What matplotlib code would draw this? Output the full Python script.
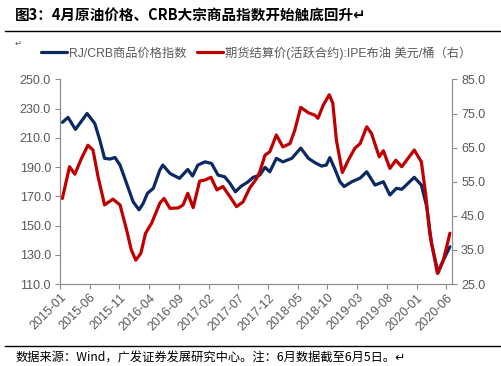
import matplotlib
matplotlib.use("Agg")
import matplotlib.pyplot as plt
from matplotlib.lines import Line2D
import numpy as np

plt.rcParams["font.family"] = ["Liberation Sans", "Noto Sans CJK SC", "DejaVu Sans"]

# months since 2015-01 (fractional) and values
crb_month = [0.4, 1.35, 2.6, 4.55, 5.85, 6.7, 7.5, 8.4, 9.25, 10.1, 11.2, 12.3,
             13.3, 14.0, 14.7, 15.7, 16.8, 17.3, 18.5, 20.1, 21.5, 22.3, 23.2,
             24.4, 25.5, 26.6, 27.7, 28.6, 29.5, 30.5, 31.6, 32.5, 33.6, 34.5,
             35.3, 36.4, 37.5, 39.0, 40.5, 41.8, 42.9, 44.0, 44.8, 45.4, 46.2,
             47.1, 47.8, 49.1, 50.5, 51.6, 53.0, 54.4, 55.5, 56.6, 57.5, 59.6,
             60.8, 61.7, 62.5, 63.6, 64.5, 65.6]
crb_value = [220.6, 224.0, 215.8, 226.7, 219.9, 208.5, 196.0, 195.5, 196.6,
             191.4, 178.9, 166.3, 160.8, 165.2, 172.0, 175.5, 188.0, 191.4,
             185.7, 182.3, 188.4, 183.9, 191.4, 193.6, 192.5, 184.5, 183.4,
             178.9, 173.1, 177.0, 179.8, 183.0, 184.5, 189.8, 186.8, 196.0,
             193.6, 196.0, 203.0, 196.0, 193.0, 190.7, 191.4, 196.5, 189.1,
             180.0, 176.7, 180.0, 182.5, 186.8, 177.7, 180.0, 170.9, 175.5,
             174.8, 183.0, 177.7, 162.9, 137.8, 117.7, 126.4, 135.5]

brent_month = [0.4, 1.6, 2.5, 3.6, 4.7, 5.55, 6.4, 7.5, 8.9, 10.1, 11.2, 12.0,
               12.75, 13.6, 14.4, 15.4, 16.8, 17.5, 18.5, 19.9, 20.7, 21.5,
               22.4, 23.5, 24.4, 25.4, 26.4, 27.4, 28.6, 29.7, 30.8, 31.9,
               33.1, 33.6, 34.5, 35.3, 36.4, 37.5, 38.7, 39.5, 40.5, 41.8,
               42.9, 43.4, 44.3, 45.3, 45.9, 46.5, 47.5, 48.5, 49.6, 50.5,
               51.6, 52.4, 53.7, 54.4, 55.5, 56.5, 57.5, 59.6, 60.8, 61.5,
               62.2, 63.5, 64.5, 65.6]
brent_value = [50.1, 59.4, 57.2, 61.8, 65.7, 64.3, 56.5, 48.2, 49.9, 48.2, 40.9,
               35.0, 32.0, 34.0, 39.9, 42.8, 48.7, 50.1, 47.2, 47.3, 48.2, 51.6,
               47.4, 55.2, 55.5, 56.3, 52.6, 53.6, 50.6, 47.7, 49.1, 53.1, 56.0,
               57.9, 62.8, 63.8, 68.7, 65.2, 66.2, 70.1, 76.8, 75.2, 74.5, 73.6,
               77.5, 80.5, 78.0, 67.2, 57.7, 61.3, 64.8, 66.2, 71.1, 69.2, 62.3,
               64.1, 58.9, 61.3, 59.4, 64.3, 60.8, 51.6, 39.9, 28.1, 32.0, 39.9]

tick_labels = ["2015-01", "2015-06", "2015-11", "2016-04", "2016-09", "2017-02",
               "2017-07", "2017-12", "2018-05", "2018-10", "2019-03", "2019-08",
               "2020-01", "2020-06"]

blue = "#0B2A63"
red = "#C00000"
grey = "#595959"
cjk = ["Noto Sans CJK SC", "DejaVu Sans"]

fig = plt.figure(figsize=(5.02, 3.66), dpi=100)
ax = fig.add_axes([0.1195, 0.224, 0.7809, 0.559])
ax2 = ax.twinx()

l1, = ax.plot(crb_month, crb_value, color=blue, lw=2.3, solid_joinstyle="round",
              solid_capstyle="round")
l2, = ax2.plot(brent_month, brent_value, color=red, lw=2.3, solid_joinstyle="round",
               solid_capstyle="round")

ax.set_xlim(0, 65.95)
ax.set_ylim(110, 250)
ax.set_yticks(np.arange(110, 251, 20))
ax.set_yticklabels([f"{v:.1f}" for v in np.arange(110, 251, 20)])
ax2.set_ylim(25, 85)
ax2.set_yticks(np.arange(25, 86, 10))
ax2.set_yticklabels([f"{v:.1f}" for v in np.arange(25, 86, 10)])

ax.set_xticks(np.arange(0, 66, 5))
ax.set_xticklabels(tick_labels, rotation=45, ha="right", rotation_mode="anchor")

for a in (ax, ax2):
    for s in a.spines.values():
        s.set_color("#8C8C8C")
        s.set_linewidth(0.8)
    a.spines["top"].set_visible(False)
    a.tick_params(colors="#8C8C8C", labelcolor=grey, labelsize=9, length=3.5,
                  width=0.8)
ax.tick_params(axis="y", pad=3)
ax2.tick_params(axis="y", pad=3)
ax.tick_params(axis="x", pad=2)

fig.legend([l1, l2], ["RJ/CRB商品价格指数", "期货结算价(活跃合约):IPE布油 美元/桶（右）"],
           loc="center", bbox_to_anchor=(0.51, 1 - 53 / 366), ncol=2, frameon=False,
           handlelength=2.2, handletextpad=0.15, columnspacing=0.8,
           prop={"family": ["Liberation Sans", "Noto Sans CJK SC"], "size": 8.8},
           labelcolor=grey)

fig.text(0.03, 1 - 15 / 366, "图3：4月原油价格、CRB大宗商品指数开始触底回升↵",
         family=cjk, fontweight="bold", fontsize=10.5, va="center", color="black")
fig.text(0.03, 1 - 43 / 366, "↵", family=cjk, fontsize=6, va="center", color=grey)
fig.add_artist(Line2D([0.01, 0.996], [1 - 31 / 366] * 2, color="black", lw=1))
fig.add_artist(Line2D([0.01, 0.996], [1 - 346 / 366] * 2, color="black", lw=1))
fig.text(0.03, 1 - 358 / 366, "数据来源：Wind，广发证券发展研究中心。注：6月数据截至6月5日。↵",
         family=cjk, fontsize=8.8, va="center", color="black")

fig.savefig("out.png", dpi=100)
